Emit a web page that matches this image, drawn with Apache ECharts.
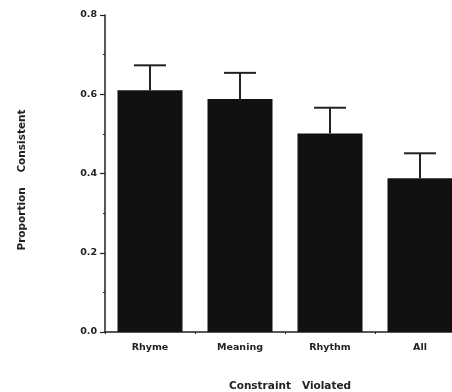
<!DOCTYPE html>
<html><head><meta charset="utf-8">
<script src="https://cdn.jsdelivr.net/npm/echarts@6/dist/echarts.min.js"></script>
<style>html,body{margin:0;padding:0;background:#fff}#c{width:452px;height:392px}</style>
</head><body><div id="c"></div>
<script>
var categories = ['Rhyme', 'Meaning', 'Rhythm', 'All'];
var means = [0.61, 0.588, 0.501, 0.388];
var errors = [0.063, 0.066, 0.065, 0.063];
var yTicks = ['0.0', '0.2', '0.4', '0.6', '0.8'];

var chart = echarts.init(document.getElementById('c'));
var font = 'DejaVu Sans';
var errData = categories.map(function (c, i) { return [i, means[i], means[i] + errors[i]]; });
chart.setOption({
  animation: false,
  grid: { left: 105, top: 15, width: 360, height: 317, containLabel: false, outerBoundsMode: 'none' },
  xAxis: {
    type: 'category', data: categories,
    name: 'Constraint   Violated', nameLocation: 'middle', nameGap: 49,
    nameTextStyle: { fontFamily: font, fontWeight: 'bold', fontSize: 10.5, color: '#222', padding: [0, 0, 0, 10] },
    axisLine: { lineStyle: { color: '#222', width: 1.5 } },
    axisTick: { show: true, length: 2, lineStyle: { color: '#222' } },
    axisLabel: { fontFamily: font, fontWeight: 'bold', fontSize: 9.5, color: '#222', margin: 11 }
  },
  yAxis: {
    type: 'value', min: 0, max: 0.8, interval: 0.2,
    name: 'Proportion    Consistent', nameLocation: 'middle', nameGap: 77, nameRotate: 90,
    nameTextStyle: { fontFamily: font, fontWeight: 'bold', fontSize: 10.5, color: '#222', padding: [0, 13, 0, 0] },
    axisLine: { show: true, lineStyle: { color: '#222', width: 1.5 } },
    axisTick: { show: true, length: 5, lineStyle: { color: '#222', width: 1.2 } },
    minorTick: { show: true, splitNumber: 2, length: 2, lineStyle: { color: '#222' } },
    splitLine: { show: false },
    axisLabel: { fontFamily: font, fontWeight: 'bold', fontSize: 9.5, color: '#222', margin: 8,
      formatter: function (v) { return yTicks[Math.round(v / 0.2)]; } }
  },
  series: [
    { type: 'bar', data: means, barWidth: 65, itemStyle: { color: '#111' } },
    { type: 'custom', data: errData, z: 3,
      renderItem: function (params, api) {
        var x = api.value(0);
        var b = api.coord([x, api.value(1)]);
        var t = api.coord([x, api.value(2)]);
        var hw = 16;
        var st = { stroke: '#222', lineWidth: 2 };
        return { type: 'group', children: [
          { type: 'line', shape: { x1: b[0], y1: b[1], x2: t[0], y2: t[1] }, style: st },
          { type: 'line', shape: { x1: t[0] - hw, y1: t[1], x2: t[0] + hw, y2: t[1] }, style: st }
        ] };
      }
    }
  ]
});
</script></body></html>
